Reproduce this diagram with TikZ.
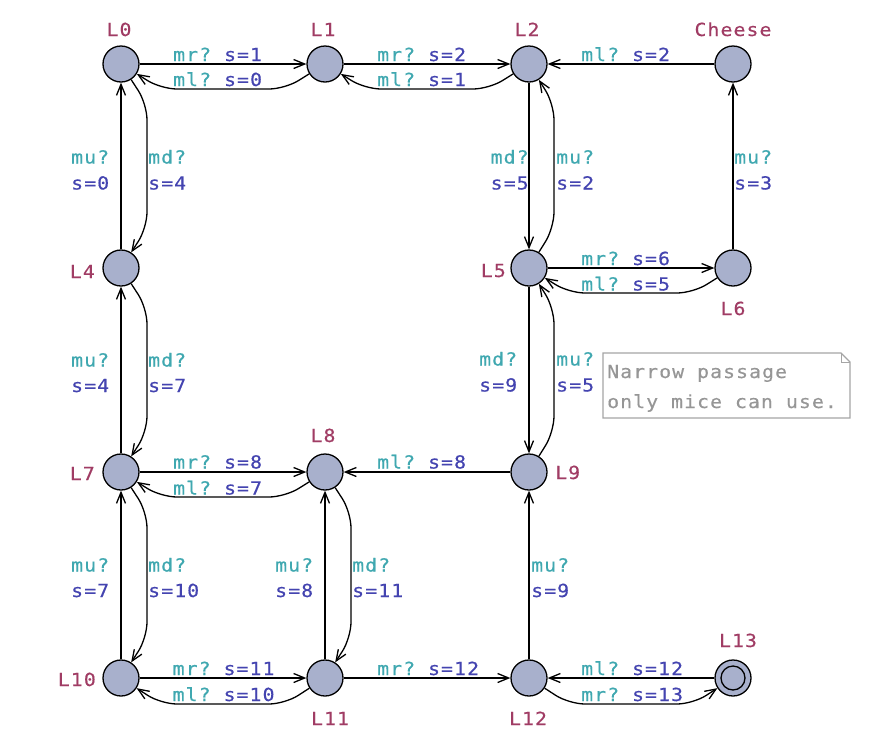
\documentclass[tikz,border=0pt]{standalone}
\usepackage{fontspec}
\setmonofont[FakeStretch=1.1,LetterSpace=6,FakeBold=0.5]{DejaVu Sans Mono}
\usetikzlibrary{arrows.meta}
\definecolor{locc}{RGB}{160,60,100}
\definecolor{sync}{RGB}{64,168,176}
\definecolor{asgn}{RGB}{68,68,176}
\definecolor{locfill}{RGB}{168,176,204}
\definecolor{notetext}{RGB}{150,150,150}
\definecolor{noteline}{RGB}{165,165,165}
\newcommand{\syn}[1]{\textcolor{sync}{#1}}
\newcommand{\asg}[1]{\textcolor{asgn}{#1}}
\begin{document}
\begin{tikzpicture}[x=1pt,y=-1pt,
  every node/.style={font=\ttfamily\fontsize{18}{26}\selectfont},
  loc/.style={circle,draw,line width=1.3pt,fill=locfill,minimum size=36pt,inner sep=0pt},
  edge/.style={line width=1.3pt,-{Straight Barb[length=11pt,width=9pt]}},
  curv/.style={edge,rounded corners=16pt},
  lname/.style={text=locc,inner sep=0pt,anchor=base},
  lab/.style={anchor=base west,inner sep=0pt}]
\useasboundingbox (0,0) rectangle (894,737);

% locations
\node[loc] (L0) at (121,64) {};
\node[loc] (L1) at (325,64) {};
\node[loc] (L2) at (529,64) {};
\node[loc] (Ch) at (733,64) {};
\node[loc] (L4) at (121,268) {};
\node[loc] (L5) at (529,268) {};
\node[loc] (L6) at (733,268) {};
\node[loc] (L7) at (121,472) {};
\node[loc] (L8) at (325,472) {};
\node[loc] (L9) at (529,472) {};
\node[loc] (L10) at (121,678) {};
\node[loc] (L11) at (325,678) {};
\node[loc] (L12) at (529,678) {};
\node[loc] (L13) at (733,678) {};
\draw[line width=1.3pt] (L13.center) circle[radius=12pt];

% location names
\node[lname] (n0) at (119,36) {L0};
\node[lname] (n1) at (323,36) {L1};
\node[lname] (n2) at (527,36) {L2};
\node[lname] (nC) at (733,36) {Cheese};
\node[lname,anchor=base east] (n4) at (95,278) {L4};
\node[lname,anchor=base east] (n5) at (506,277) {L5};
\node[lname] (n6) at (733,315) {L6};
\node[lname,anchor=base east] (n7) at (95,480) {L7};
\node[lname] (n8) at (323,442) {L8};
\node[lname,anchor=base west] (n9) at (555,479) {L9};
\node[lname,anchor=base east] (n10) at (96,686) {L10};
\node[lname] (n11) at (330,725) {L11};
\node[lname] (n12) at (528,725) {L12};
\node[lname] (n13) at (738,647) {L13};

% straight edges
\draw[edge] (L0) -- (L1);
\draw[edge] (L1) -- (L2);
\draw[edge] (Ch) -- (L2);
\draw[edge] (L4) -- (L0);
\draw[edge] (L7) -- (L4);
\draw[edge] (L10) -- (L7);
\draw[edge] (L2) -- (L5);
\draw[edge] (L5) -- (L6);
\draw[edge] (L6) -- (Ch);
\draw[edge] (L5) -- (L9);
\draw[edge] (L7) -- (L8);
\draw[edge] (L9) -- (L8);
\draw[edge] (L11) -- (L8);
\draw[edge] (L10) -- (L11);
\draw[edge] (L11) -- (L12);
\draw[edge] (L12) -- (L9);
\draw[edge] (L13) -- (L12);

% curved edges
\draw[curv] (L1) -- (285,89) -- (161,89) -- (L0);
\draw[curv] (L2) -- (489,89) -- (365,89) -- (L1);
\draw[curv] (L6) -- (693,293) -- (569,293) -- (L5);
\draw[curv] (L8) -- (285,497) -- (161,497) -- (L7);
\draw[curv] (L11) -- (285,704) -- (161,704) -- (L10);
\draw[curv] (L12) -- (569,704) -- (693,704) -- (L13);
\draw[curv] (L0) -- (147,104) -- (147,228) -- (L4);
\draw[curv] (L4) -- (147,308) -- (147,432) -- (L7);
\draw[curv] (L7) -- (147,512) -- (147,638) -- (L10);
\draw[curv] (L5) -- (554,228) -- (554,104) -- (L2);
\draw[curv] (L9) -- (554,432) -- (554,308) -- (L5);
\draw[curv] (L8) -- (351,512) -- (351,638) -- (L11);

% horizontal labels
\node[lab] (a1) at (173,61) {\syn{mr?} \asg{s=1}};
\node[lab] (a2) at (173,86) {\syn{ml?} \asg{s=0}};
\node[lab] (a3) at (377,61) {\syn{mr?} \asg{s=2}};
\node[lab] (a4) at (377,86) {\syn{ml?} \asg{s=1}};
\node[lab] (a5) at (581,61) {\syn{ml?} \asg{s=2}};
\node[lab] (a6) at (581,265) {\syn{mr?} \asg{s=6}};
\node[lab] (a7) at (581,290.5) {\syn{ml?} \asg{s=5}};
\node[lab] (a8) at (173,468.5) {\syn{mr?} \asg{s=8}};
\node[lab] (a9) at (173,494.5) {\syn{ml?} \asg{s=7}};
\node[lab] (a10) at (377,468.5) {\syn{ml?} \asg{s=8}};
\node[lab] (a11) at (172.5,675) {\syn{mr?} \asg{s=11}};
\node[lab] (a12) at (172.5,701) {\syn{ml?} \asg{s=10}};
\node[lab] (a13) at (377,675) {\syn{mr?} \asg{s=12}};
\node[lab] (a14) at (581,675) {\syn{ml?} \asg{s=12}};
\node[lab] (a15) at (581,701) {\syn{mr?} \asg{s=13}};

% vertical labels
\node[lab] (b1) at (71,163.5) {\syn{mu?}};  \node[lab] (b1s) at (71,189.5) {\asg{s=0}};
\node[lab] (b2) at (148,163.5) {\syn{md?}}; \node[lab] (b2s) at (148,189.5) {\asg{s=4}};
\node[lab] (b3) at (490.5,163.5) {\syn{md?}}; \node[lab] (b3s) at (490.5,189.5) {\asg{s=5}};
\node[lab] (b4) at (556,163.5) {\syn{mu?}}; \node[lab] (b4s) at (556,189.5) {\asg{s=2}};
\node[lab] (b5) at (734,163.5) {\syn{mu?}}; \node[lab] (b5s) at (734,189.5) {\asg{s=3}};
\node[lab] (b6) at (71,366.5) {\syn{mu?}};  \node[lab] (b6s) at (71,392) {\asg{s=4}};
\node[lab] (b7) at (148,366.5) {\syn{md?}}; \node[lab] (b7s) at (148,392) {\asg{s=7}};
\node[lab] (b8) at (479,365.5) {\syn{md?}}; \node[lab] (b8s) at (479,391.5) {\asg{s=9}};
\node[lab] (b9) at (556,365.5) {\syn{mu?}}; \node[lab] (b9s) at (556,391.5) {\asg{s=5}};
\node[lab] (b10) at (71,571.5) {\syn{mu?}};  \node[lab] (b10s) at (71,597) {\asg{s=7}};
\node[lab] (b11) at (148,571.5) {\syn{md?}}; \node[lab] (b11s) at (148,597) {\asg{s=10}};
\node[lab] (b12) at (275,571.5) {\syn{mu?}}; \node[lab] (b12s) at (275,597) {\asg{s=8}};
\node[lab] (b13) at (352,571.5) {\syn{md?}}; \node[lab] (b13s) at (352,597) {\asg{s=11}};
\node[lab] (b14) at (531,571.5) {\syn{mu?}}; \node[lab] (b14s) at (531,597) {\asg{s=9}};

% note
\draw[noteline,line width=1.2pt] (603,353) -- (841,353) -- (850,362) -- (850,418) -- (603,418) -- cycle;
\draw[noteline,line width=1pt] (841,353) -- (841,362) -- (850,362);
\node[lab,text=notetext] (nt1) at (607,378) {Narrow passage};
\node[lab,text=notetext] (nt2) at (607,408) {only mice can use.};
\end{tikzpicture}
\end{document}
